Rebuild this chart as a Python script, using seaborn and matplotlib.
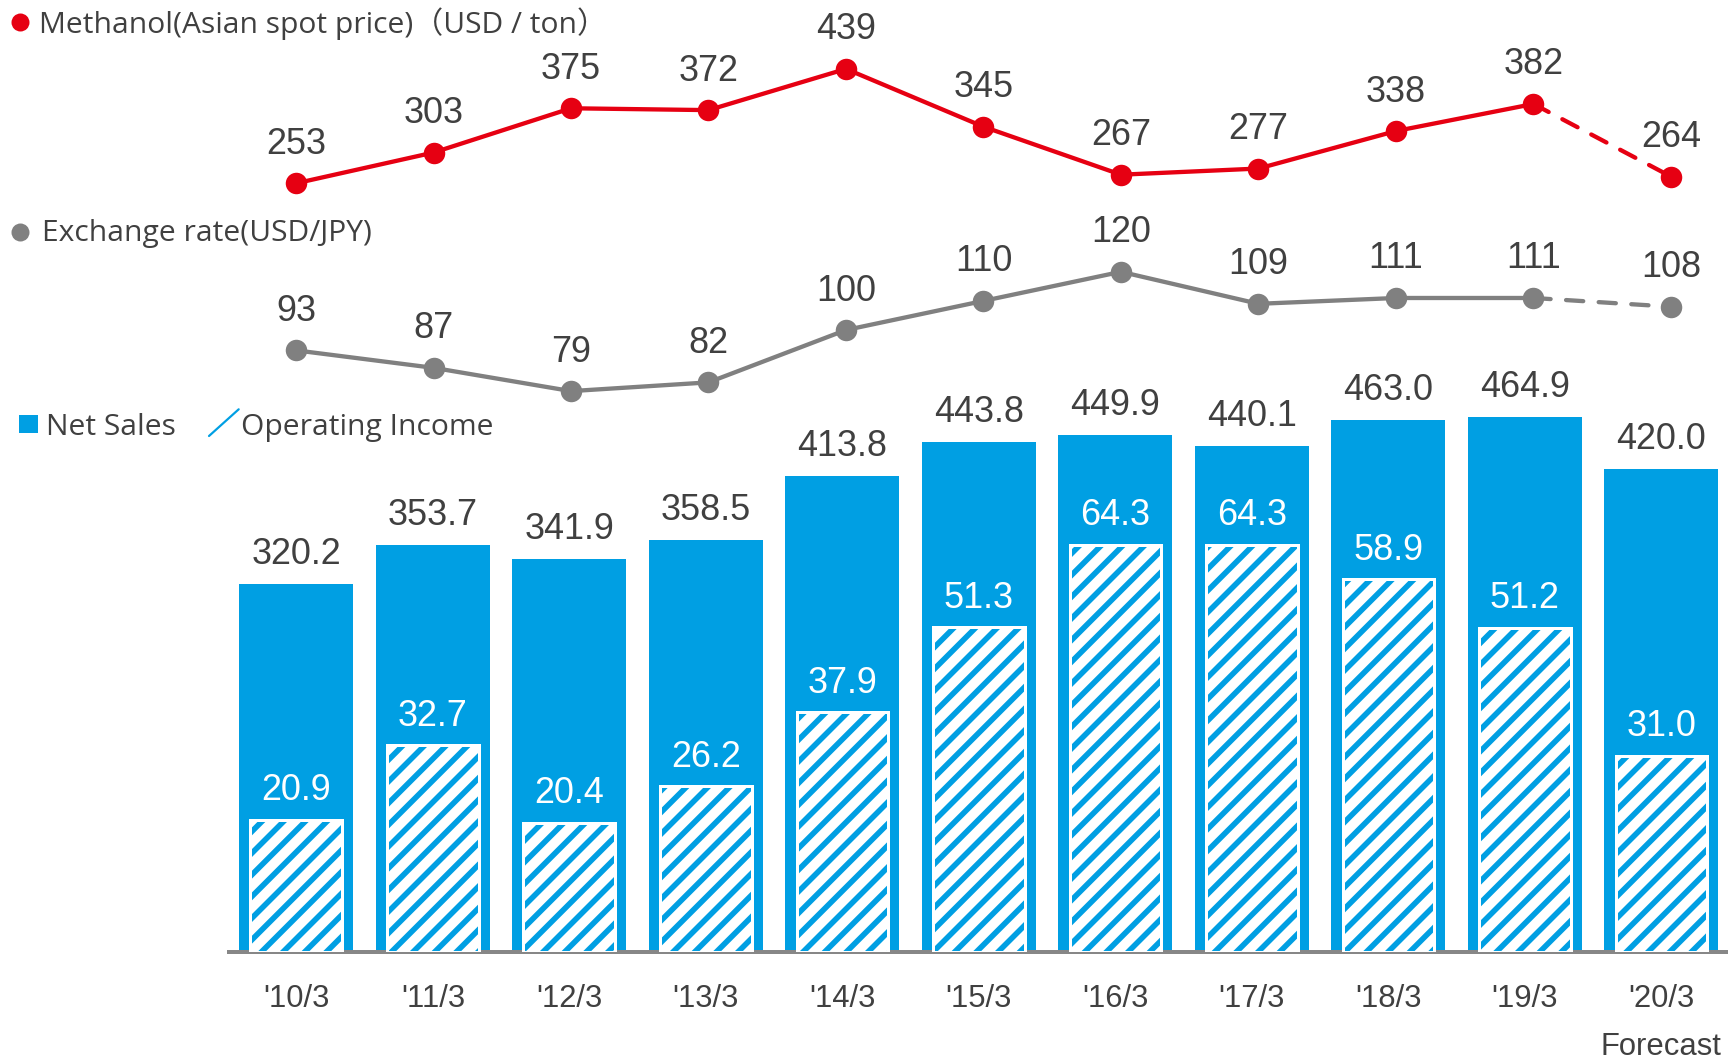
import numpy as np
import pandas as pd
import matplotlib
matplotlib.use("Agg")
import matplotlib.pyplot as plt
from matplotlib.patches import Rectangle
import seaborn as sns

# ---------------- data ----------------
categories = ["'10/3", "'11/3", "'12/3", "'13/3", "'14/3", "'15/3",
              "'16/3", "'17/3", "'18/3", "'19/3", "'20/3"]
net_sales = [320.2, 353.7, 341.9, 358.5, 413.8, 443.8, 449.9, 440.1, 463.0, 464.9, 420.0]
op_income = [20.9, 32.7, 20.4, 26.2, 37.9, 51.3, 64.3, 64.3, 58.9, 51.2, 31.0]
methanol = [253, 303, 375, 372, 439, 345, 267, 277, 338, 382, 264]
usd_jpy = [93, 87, 79, 82, 100, 110, 120, 109, 111, 111, 108]
forecast_start = 9          # segment from this index on is a forecast (dashed)
forecast_label = "Forecast"

legend_methanol = "Methanol(Asian spot price)（USD / ton）"
legend_fx = "Exchange rate(USD/JPY)"
legend_sales = "Net Sales"
legend_op = "Operating Income"

# ---------------- style ----------------
BLUE = "#009FE3"
RED = "#E60012"
GRAY = "#808080"
TEXT = "#404040"
AXISGRAY = "#878787"

DPI = 130
W, H = 1728, 1061


def P(px):
    """pixels -> points at the figure dpi"""
    return px * 72.0 / DPI


sns.set_theme(style="white")
plt.rcParams["font.family"] = ["Liberation Sans", "DejaVu Sans"]
plt.rcParams["hatch.linewidth"] = P(5.6)
LEG_FONT = ["Open Sans", "Noto Sans CJK JP", "DejaVu Sans"]

fig = plt.figure(figsize=(W / DPI, H / DPI), dpi=DPI)


def frac(left, top, right, bottom):
    return [left / W, 1 - bottom / H, (right - left) / W, (bottom - top) / H]


X0, X1 = 229.2, 1728
XLIM_BAR = (-0.492, 10.488)
XLIM_LINE = (-0.486, 10.415)

ax_bar = fig.add_axes(frac(X0, 377, X1, 952))
ax_op = ax_bar.twinx()
ax_m = fig.add_axes(frac(X0, 43.7, X1, 215.9))
ax_fx = fig.add_axes(frac(X0, 242.7, X1, 417.3))
ax_leg = fig.add_axes([0, 0, 1, 1])

df = pd.DataFrame({"period": categories, "net_sales": net_sales,
                   "op_income": op_income, "methanol": methanol, "fx": usd_jpy})
pos = np.arange(len(categories))

VAL_FS = P(36)

# ---------------- bars ----------------
sns.barplot(data=df, x="period", y="net_sales", color=BLUE, saturation=1,
            width=0.836, linewidth=0, ax=ax_bar)
sns.barplot(data=df, x="period", y="op_income", color="white", saturation=1,
            width=0.672, linewidth=0, edgecolor=BLUE, hatch="//", ax=ax_op)
sns.barplot(data=df, x="period", y="op_income", color="white", saturation=1,
            width=0.672, linewidth=P(3), fill=False, ax=ax_op)

ax_bar.set_ylim(0, 500)
ax_op.set_ylim(0, 575 / 6.33)

for i, v in enumerate(net_sales):
    ax_bar.annotate(f"{v:.1f}", xy=(pos[i], v), xytext=(0, P(20)), textcoords="offset points",
                    ha="center", va="baseline", fontsize=VAL_FS, color=TEXT)
for i, v in enumerate(op_income):
    ax_op.annotate(f"{v:.1f}", xy=(pos[i], v), xytext=(0, P(19.5)), textcoords="offset points",
                   ha="center", va="baseline", fontsize=VAL_FS, color="white")

for a in (ax_bar, ax_op):
    a.set_xlabel("")
    a.set_ylabel("")
    a.set_yticks([])
    for s in a.spines.values():
        s.set_visible(False)
ax_bar.spines["bottom"].set_visible(True)
ax_bar.spines["bottom"].set_color(AXISGRAY)
ax_bar.spines["bottom"].set_linewidth(P(4))
ax_bar.tick_params(axis="x", length=0, pad=P(32), labelsize=P(31), labelcolor=TEXT)
ax_bar.annotate(forecast_label, xy=(pos[-1], 0), xycoords=("data", "axes fraction"),
                xytext=(0, -P(103)), textcoords="offset points", ha="center",
                va="baseline", fontsize=P(31), color=TEXT, annotation_clip=False)


# ---------------- lines ----------------
def draw_line(ax, values, color, ylim):
    vals = np.asarray(values, dtype=float)
    lw = P(4.3)
    sns.lineplot(x=pos[:forecast_start + 1], y=vals[:forecast_start + 1], color=color,
                 linewidth=lw, solid_capstyle="round", ax=ax)
    sns.lineplot(x=pos[forecast_start:], y=vals[forecast_start:], color=color,
                 linewidth=lw, linestyle=(0, (4, 3.6)), dash_capstyle="round", ax=ax)
    sns.scatterplot(x=pos, y=vals, color=color, s=P(21.5) ** 2, linewidth=0, ax=ax, zorder=5)
    for i, v in enumerate(values):
        ax.annotate(f"{v}", xy=(pos[i], v), xytext=(0, P(29.5)), textcoords="offset points",
                    ha="center", va="baseline", fontsize=VAL_FS, color=TEXT)
    ax.set_ylim(*ylim)
    ax.set_xlim(*XLIM_LINE)
    ax.axis("off")
    ax.patch.set_visible(False)


draw_line(ax_m, methanol, RED, (200, 480))
draw_line(ax_fx, usd_jpy, GRAY, (70, 130))

ax_bar.set_xlim(*XLIM_BAR)
ax_op.set_xlim(*XLIM_BAR)

# ---------------- legends ----------------
ax_leg.set_xlim(0, W)
ax_leg.set_ylim(H, 0)
ax_leg.axis("off")
ax_leg.patch.set_visible(False)

LEG_FS = P(30)
ax_leg.plot([19.7], [22.2], "o", ms=P(18), color=RED, mew=0)
ax_leg.text(39.3, 33.3, legend_methanol, ha="left", va="baseline", fontsize=LEG_FS,
            color=TEXT, family=LEG_FONT)
ax_leg.plot([20], [231.7], "o", ms=P(18), color=GRAY, mew=0)
ax_leg.text(41.5, 240.7, legend_fx, ha="left", va="baseline", fontsize=LEG_FS,
            color=TEXT, family=LEG_FONT)
ax_leg.add_patch(Rectangle((19, 415), 18.7, 17.7, color=BLUE, lw=0))
ax_leg.text(46, 435, legend_sales, ha="left", va="baseline", fontsize=LEG_FS,
            color=TEXT, family=LEG_FONT)
ax_leg.plot([209, 238.7], [436, 409.3], color=BLUE, lw=P(2.2))
ax_leg.text(240.7, 435, legend_op, ha="left", va="baseline", fontsize=LEG_FS,
            color=TEXT, family=LEG_FONT)

fig.savefig("out.png", dpi=DPI)
